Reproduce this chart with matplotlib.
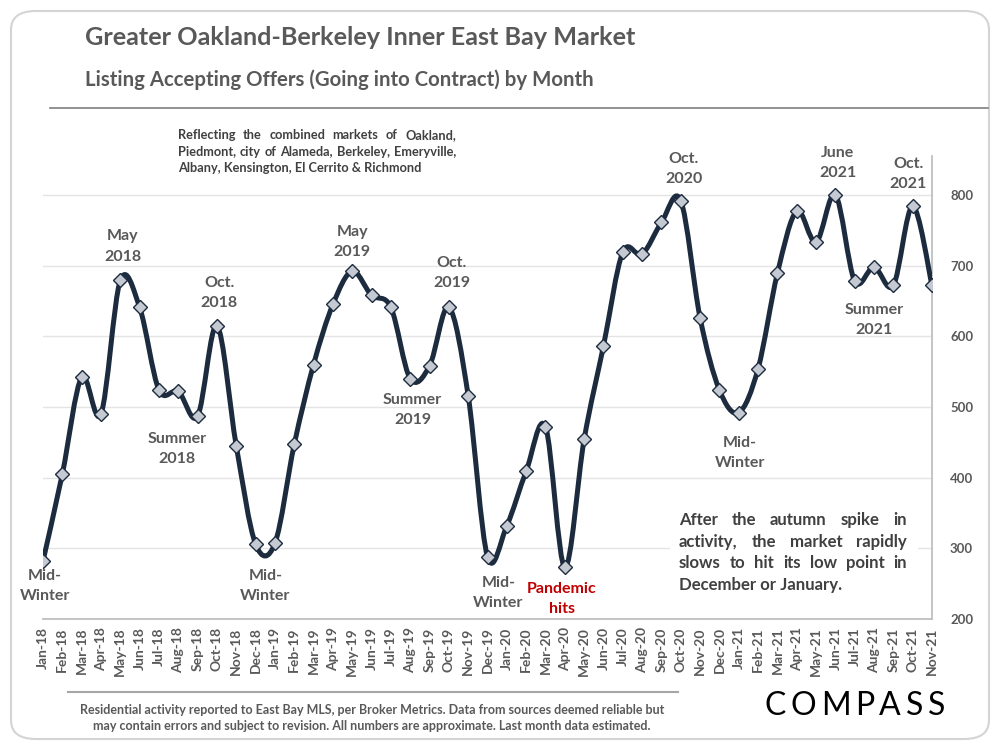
import numpy as np
import matplotlib
matplotlib.use("Agg")
import matplotlib.pyplot as plt
from matplotlib.path import Path
from matplotlib.patches import PathPatch, FancyBboxPatch, Rectangle

plt.rcParams['font.family'] = ['Lato', 'DejaVu Sans']

# monthly listings going into contract
months = ['Jan-18', 'Feb-18', 'Mar-18', 'Apr-18', 'May-18', 'Jun-18', 'Jul-18', 'Aug-18',
          'Sep-18', 'Oct-18', 'Nov-18', 'Dec-18', 'Jan-19', 'Feb-19', 'Mar-19', 'Apr-19',
          'May-19', 'Jun-19', 'Jul-19', 'Aug-19', 'Sep-19', 'Oct-19', 'Nov-19', 'Dec-19',
          'Jan-20', 'Feb-20', 'Mar-20', 'Apr-20', 'May-20', 'Jun-20', 'Jul-20', 'Aug-20',
          'Sep-20', 'Oct-20', 'Nov-20', 'Dec-20', 'Jan-21', 'Feb-21', 'Mar-21', 'Apr-21',
          'May-21', 'Jun-21', 'Jul-21', 'Aug-21', 'Sep-21', 'Oct-21', 'Nov-21']
listings = [282, 405, 542, 490, 679, 641, 524, 522, 487, 615, 445, 306, 307, 447, 560, 645,
            692, 658, 641, 540, 558, 641, 516, 288, 332, 409, 472, 273, 454, 586, 719, 716,
            761, 792, 626, 524, 492, 554, 689, 777, 733, 800, 678, 698, 672, 784, 672]
y_ticks = [200, 300, 400, 500, 600, 700, 800]

# (text, month position, value position, colour)
labels = [
    ("Mid-\nWinter", 0.1, 247, '#595959'),
    ("May\n2018", 4.14, 727, '#595959'),
    ("Oct.\n2018", 9.12, 661, '#595959'),
    ("Summer\n2018", 6.94, 441, '#595959'),
    ("Mid-\nWinter", 11.5, 247, '#595959'),
    ("May\n2019", 16.0, 734, '#595959'),
    ("Oct.\n2019", 21.14, 690, '#595959'),
    ("Summer\n2019", 19.12, 496, '#595959'),
    ("Mid-\nWinter", 23.57, 237, '#595959'),
    ("Pandemic\nhits", 26.83, 228, '#c00000'),
    ("Oct.\n2020", 33.15, 837, '#595959'),
    ("June\n2021", 41.13, 845, '#595959'),
    ("Oct.\n2021", 44.76, 830, '#595959'),
    ("Summer\n2021", 43.0, 623, '#595959'),
    ("Mid-\nWinter", 36.06, 435, '#595959'),
]

note_lines = ["Reflecting the combined markets of Oakland,",
              "Piedmont, city of Alameda, Berkeley, Emeryville,",
              "Albany, Kensington, El Cerrito & Richmond"]
box_lines = ["After the autumn spike in",
             "activity, the market rapidly",
             "slows to hit its low point in",
             "December or January."]
footer = ("Residential activity reported to East Bay MLS, per Broker Metrics. Data from sources deemed reliable but\n"
          "may contain errors and subject to revision. All numbers are approximate. Last month data estimated.")

W, H = 1000, 750
fig = plt.figure(figsize=(10, 7.5), dpi=100)
renderer = fig.canvas.get_renderer()


def fx(px):
    return px / W


def fy(py):
    return 1 - py / H


def justified(lines, x0, x1, y0, dy, size, color):
    # spread words of each line between x0 and x1, last line left aligned
    for i, line in enumerate(lines):
        y = fy(y0 + i * dy)
        if i == len(lines) - 1:
            fig.text(fx(x0), y, line, fontsize=size, fontweight='bold', color=color, va='baseline')
            continue
        words = line.split()
        objs = [fig.text(0, y, w, fontsize=size, fontweight='bold', color=color, va='baseline') for w in words]
        widths = [o.get_window_extent(renderer).width for o in objs]
        gap = (x1 - x0 - sum(widths)) / (len(words) - 1)
        x = x0
        for o, wd in zip(objs, widths):
            o.set_x(fx(x))
            x += wd + gap


# outer rounded frame
frame = FancyBboxPatch((fx(11), fy(739)), fx(978), 728 / H, boxstyle="round,pad=0,rounding_size=0.025",
                       transform=fig.transFigure, fc='white', ec='#d4d4d4', lw=1.5, zorder=-5)
fig.patches.append(frame)

ax = fig.add_axes([fx(43), fy(619), fx(932 - 43), (619 - 156) / H])
ax.set_xlim(0, len(months) - 1)
ax.set_ylim(200, 855)

# smoothed line (Excel style bezier) through the points
x = np.arange(len(listings))
pts = np.column_stack([x, listings]).astype(float)
ext = np.vstack([pts[0], pts, pts[-1]])
verts = [pts[0]]
codes = [Path.MOVETO]
for i in range(len(pts) - 1):
    p0, p1, p2, p3 = ext[i], ext[i + 1], ext[i + 2], ext[i + 3]
    verts += [p1 + (p2 - p0) / 6, p2 - (p3 - p1) / 6, p2]
    codes += [Path.CURVE4] * 3
ax.add_patch(PathPatch(Path(verts, codes), fill=False, ec='#1c2b3e', lw=3.6, zorder=3,
                       capstyle='round', joinstyle='round'))
ax.plot(x, listings, ls='none', marker='D', ms=7.5, mfc='#c5cad2', mec='#1c2b3e', mew=1.0, zorder=4)

ax.set_yticks(y_ticks)
ax.yaxis.tick_right()
ax.grid(axis='y', color='#e4e4e4', lw=1, zorder=0)
ax.set_axisbelow(True)
ax.set_xticks(x)
ax.set_xticklabels(months, rotation=90, fontsize=10, fontweight='bold', color='#595959')
ax.tick_params(axis='x', length=0, pad=6)
ax.tick_params(axis='y', length=0, pad=13, labelsize=9.5, labelcolor='#595959')
for t in ax.get_yticklabels():
    t.set_fontweight('bold')
for s in ['left', 'top']:
    ax.spines[s].set_visible(False)
ax.spines['right'].set_color('#bfbfbf')
ax.spines['bottom'].set_color('#bfbfbf')
ax.spines['right'].set_linewidth(1.3)
ax.spines['bottom'].set_linewidth(1.3)

for txt, xd, yd, col in labels:
    ax.text(xd, yd, txt, ha='center', va='center', fontsize=11.5, fontweight='bold',
            color=col, linespacing=1.55, zorder=5)

# titles
fig.text(fx(85), fy(45), "Greater Oakland-Berkeley Inner East Bay Market", fontsize=18.2,
         fontweight='bold', color='#595959', va='baseline')
fig.text(fx(85), fy(86), "Listing Accepting Offers (Going into Contract) by Month", fontsize=14.7,
         fontweight='bold', color='#595959', va='baseline')
fig.add_artist(plt.Line2D([fx(50), fx(988)], [fy(108), fy(108)], color='#7f7f7f', lw=1.2,
                          transform=fig.transFigure))

justified(note_lines, 178, 456, 139, 16.5, 9.2, '#404040')

fig.patches.append(Rectangle((fx(670), fy(602)), fx(248), 97 / H, transform=fig.transFigure,
                             fc='white', ec='none', zorder=1))
justified(box_lines, 679, 907, 525, 21.7, 12.1, '#404040')

# footer
fig.add_artist(plt.Line2D([fx(68), fx(678)], [fy(692), fy(692)], color='#a6a6a6', lw=1.5,
                          transform=fig.transFigure))
fig.text(fx(372), fy(718), footer, ha='center', va='center', fontsize=9, fontweight='bold',
         color='#595959', linespacing=1.35, family=['Liberation Sans Narrow', 'Lato'])

# logo letters spaced out
logo = [fig.text(0, fy(715), c, fontsize=23, color='black', va='baseline') for c in "COMPASS"]
lw_ = [o.get_window_extent(renderer).width for o in logo]
gap = (945 - 765 - sum(lw_)) / (len(logo) - 1)
xp = 765
for o, wd in zip(logo, lw_):
    o.set_x(fx(xp))
    xp += wd + gap

fig.savefig("out.png", dpi=100)
